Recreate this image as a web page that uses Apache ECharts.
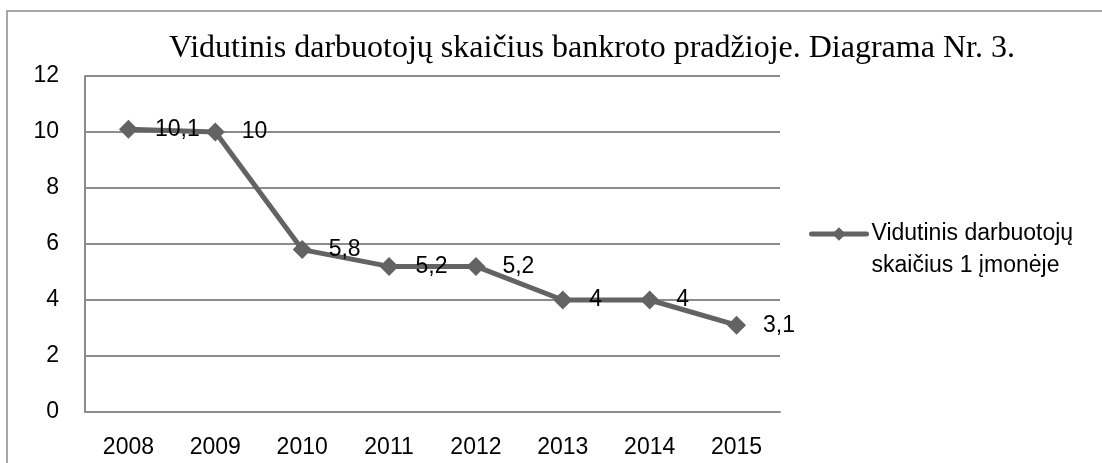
<!DOCTYPE html>
<html>
<head>
<meta charset="utf-8">
<script src="https://cdn.jsdelivr.net/npm/echarts@6/dist/echarts.min.js"></script>
<style>
  html, body { margin: 0; padding: 0; background: #fff; }
  #main { width: 1102px; height: 463px; }
</style>
</head>
<body>
<div id="main"></div>
<script>
// chart data
const years = ["2008", "2009", "2010", "2011", "2012", "2013", "2014", "2015"];
const avgEmployees = [10.1, 10, 5.8, 5.2, 5.2, 4, 4, 3.1];
const seriesName = "Vidutinis darbuotojų\nskaičius 1 įmonėje";
const titleText = "Vidutinis darbuotojų skaičius bankroto pradžioje. Diagrama Nr. 3.";

const font = "'Liberation Sans', Arial, sans-serif";
const lineColor = "#636363";
const gridColor = "#8c8c8c";

const chart = echarts.init(document.getElementById("main"));

chart.setOption({
  animation: false,
  title: {
    text: titleText,
    left: 169,
    top: 33,
    padding: 0,
    textStyle: {
      fontFamily: "'Liberation Serif', 'Times New Roman', serif",
      fontSize: 32,
      fontWeight: "normal",
      color: "#000",
    },
  },
  // outer frame of the chart box
  graphic: [
    {
      type: "rect",
      shape: { x: 7, y: 11, width: 1300, height: 700 },
      style: { fill: "none", stroke: gridColor, lineWidth: 1.5 },
      silent: true,
    },
  ],
  legend: {
    left: 809,
    top: 186,
    padding: 0,
    orient: "vertical",
    itemWidth: 55,
    itemHeight: 17,
    lineStyle: { width: 5, cap: "round" },
    textStyle: {
      fontFamily: font,
      fontSize: 23,
      color: "#000",
      lineHeight: 32,
    },
    // empty first line keeps the icon level with the first text line
    formatter: (name) => " \n" + name,
    data: [seriesName],
  },
  grid: {
    left: 85,
    top: 76,
    right: 322,
    bottom: 51,
    containLabel: false,
  },
  xAxis: {
    type: "category",
    data: years,
    boundaryGap: true,
    axisLine: { lineStyle: { color: gridColor, width: 2 } },
    axisTick: { show: false },
    axisLabel: {
      margin: 24,
      fontFamily: font,
      fontSize: 23,
      color: "#000",
    },
  },
  yAxis: {
    type: "value",
    min: 0,
    max: 12,
    interval: 2,
    axisLine: { show: true, lineStyle: { color: gridColor, width: 2 } },
    axisTick: { show: false },
    axisLabel: {
      margin: 26,
      fontFamily: font,
      fontSize: 23,
      color: "#000",
    },
    splitLine: { lineStyle: { color: gridColor, width: 2 } },
  },
  series: [
    {
      name: seriesName,
      type: "line",
      data: avgEmployees,
      symbol: "diamond",
      symbolSize: 19,
      itemStyle: { color: lineColor },
      lineStyle: { color: lineColor, width: 5 },
      label: {
        show: true,
        position: "right",
        distance: 17,
        fontFamily: font,
        fontSize: 23,
        color: "#000",
        formatter: (p) => String(p.value).replace(".", ","),
      },
    },
  ],
});
</script>
</body>
</html>
